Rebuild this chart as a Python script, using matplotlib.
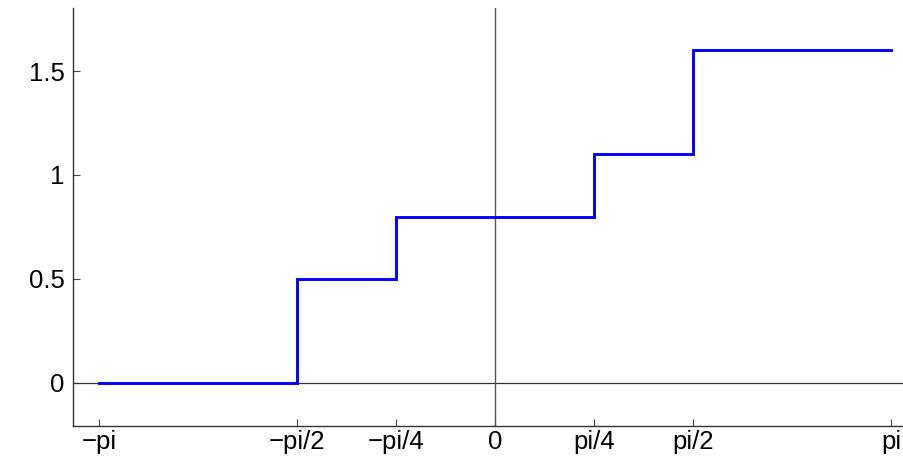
import numpy as np
import matplotlib
matplotlib.use("Agg")
import matplotlib.pyplot as plt

# step function data
edges = [-np.pi, -np.pi/2, -np.pi/4, np.pi/4, np.pi/2, np.pi]
levels = [0.0, 0.5, 0.8, 1.1, 1.6]
xtick_vals = [-np.pi, -np.pi/2, -np.pi/4, 0, np.pi/4, np.pi/2, np.pi]
xtick_labels = ["\u2212pi", "\u2212pi/2", "\u2212pi/4", "0", "pi/4", "pi/2", "pi"]
ytick_vals = [0, 0.5, 1, 1.5]
ytick_labels = ["0", "0.5", "1", "1.5"]

plt.rcParams['font.family'] = ['Liberation Sans', 'DejaVu Sans']

fig = plt.figure(figsize=(9.04, 4.61), dpi=100)
ax = fig.add_axes([73/904, 1 - 426/461, 1 - 73/904, (426 - 8)/461])

xs = []
ys = []
for i, lv in enumerate(levels):
    xs += [edges[i], edges[i+1]]
    ys += [lv, lv]
ax.plot(xs, ys, color='#0000ff', lw=2.1, solid_joinstyle='miter', zorder=3)

ax.axhline(0, color='#333333', lw=0.9, zorder=2)
ax.axvline(0, color='#555555', lw=1.0, zorder=2)

ax.set_xlim(-3.348, 3.245)
ax.set_ylim(-0.207, 1.803)
ax.set_xticks(xtick_vals)
ax.set_xticklabels(xtick_labels)
ax.set_yticks(ytick_vals)
ax.set_yticklabels(ytick_labels)
ax.tick_params(direction='in', length=5, width=0.8, labelsize=18.5, colors='#444444', labelcolor='black')
ax.tick_params(axis='x', pad=3)
ax.tick_params(axis='y', pad=6)
for s in ['top', 'right']:
    ax.spines[s].set_visible(False)
for s in ['left', 'bottom']:
    ax.spines[s].set_color('#333333')
    ax.spines[s].set_linewidth(1.0)

fig.savefig('out.png', dpi=100)
